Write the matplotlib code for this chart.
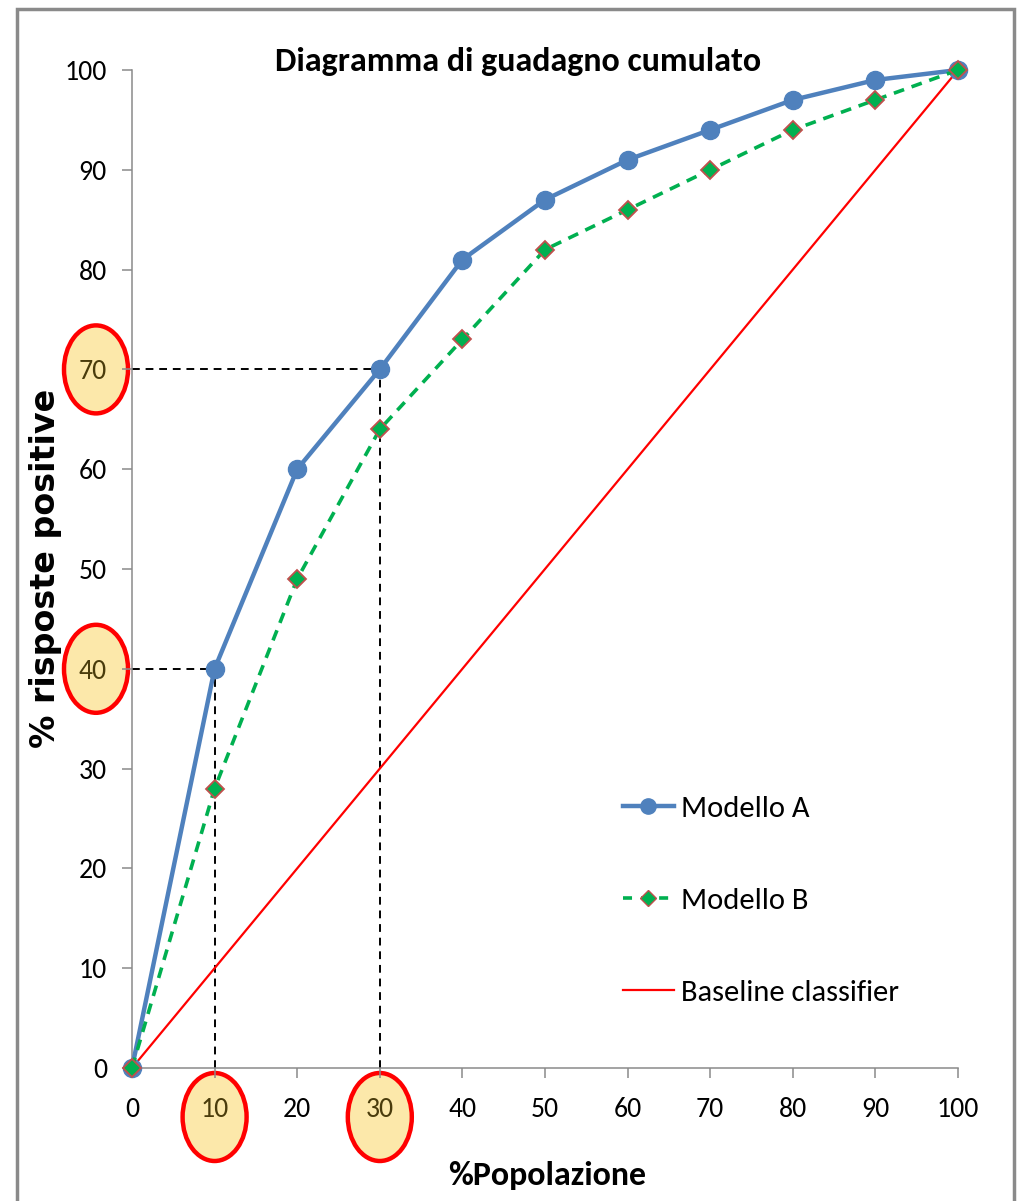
import matplotlib
matplotlib.use("Agg")
import matplotlib.pyplot as plt
from matplotlib.patches import Ellipse, Rectangle
from matplotlib.transforms import ScaledTranslation
from matplotlib.lines import Line2D

# Cumulative gain data (% of population vs % of positive responses)
popolazione = [0, 10, 20, 30, 40, 50, 60, 70, 80, 90, 100]
modello_a = [0, 40, 60, 70, 81, 87, 91, 94, 97, 99, 100]
modello_b = [0, 28, 49, 64, 73, 82, 86, 90, 94, 97, 100]
baseline = [0, 10, 20, 30, 40, 50, 60, 70, 80, 90, 100]

series_labels = ["Modello A", "Modello B", "Baseline classifier"]
y_ticks = [0, 10, 20, 30, 40, 50, 60, 70, 80, 90, 100]
x_ticks = [0, 10, 20, 30, 40, 50, 60, 70, 80, 90, 100]

# Highlighted reading points: 10% population -> 40%, 30% population -> 70%
evid_x = [10, 30]
evid_y = [40, 70]

FONT = ["Carlito", "DejaVu Sans"]

W, H, DPI = 1019, 1201, 100
fig = plt.figure(figsize=(W / DPI, H / DPI), dpi=DPI)
fig.patch.set_facecolor("white")

# outer chart frame
fig.patches.append(Rectangle((17 / W, -0.05), (1014 - 17) / W, 1.05 - 9 / H,
                             transform=fig.transFigure, fill=False,
                             edgecolor="#8a8a8a", linewidth=2.5, zorder=0))

ax = fig.add_axes([132 / W, 1 - 1068 / H, (958 - 132) / W, (1068 - 70) / H])
ax.set_facecolor("none")
ax.set_xlim(0, 100)
ax.set_ylim(0, 100)

blue = "#4F81BD"
green = "#00B050"
red = "#FF0000"
brown = "#C0504D"

ax.plot(popolazione, baseline, color=red, linewidth=1.6, zorder=3, clip_on=False)
ax.plot(popolazione, modello_a, color=blue, linewidth=3.2, marker="o",
        markersize=13, markerfacecolor=blue, markeredgecolor=blue,
        zorder=4, clip_on=False)
ax.plot(popolazione, modello_b, color=green, linewidth=2.6, linestyle=(0, (3, 2.2)),
        marker="D", markersize=9.5, markerfacecolor=green, markeredgecolor=brown,
        markeredgewidth=1.3, zorder=5, clip_on=False)

# dashed reading guides
for xv, yv in zip(evid_x, evid_y):
    ax.plot([0, xv], [yv, yv], color="black", linewidth=1.4,
            linestyle=(0, (4, 3)), zorder=2, clip_on=False)
    ax.plot([xv, xv], [0, yv], color="black", linewidth=1.4,
            linestyle=(0, (4, 3)), zorder=2, clip_on=False)

for side in ["top", "right"]:
    ax.spines[side].set_visible(False)
for side in ["left", "bottom"]:
    ax.spines[side].set_color("#8a8a8a")
    ax.spines[side].set_linewidth(1.1)

ax.set_xticks(x_ticks)
ax.set_yticks(y_ticks)
ax.set_xticklabels([str(v) for v in x_ticks], fontfamily=FONT, fontsize=20)
ax.set_yticklabels([str(v) for v in y_ticks], fontfamily=FONT, fontsize=20)
ax.tick_params(axis="both", direction="out", length=7, width=1.1, color="#8a8a8a")
ax.tick_params(axis="x", pad=14)
ax.tick_params(axis="y", pad=11)

olive = "#4a3c0c"
for lab, v in zip(ax.get_xticklabels(), x_ticks):
    if v in evid_x:
        lab.set_color(olive)
for lab, v in zip(ax.get_yticklabels(), y_ticks):
    if v in evid_y:
        lab.set_color(olive)

# ellipses around the highlighted tick labels
ew, eh = 64 / DPI, 88 / DPI
for xv in evid_x:
    tr = fig.dpi_scale_trans + ScaledTranslation(xv, 0, ax.get_xaxis_transform())
    ax.add_patch(Ellipse((0, -49 / DPI), ew, eh, transform=tr, facecolor="#FCE8AA",
                         edgecolor="#FF0000", linewidth=3.2, zorder=1, clip_on=False))
for yv in evid_y:
    tr = fig.dpi_scale_trans + ScaledTranslation(0, yv, ax.get_yaxis_transform())
    ax.add_patch(Ellipse((-36 / DPI, 0), ew, eh, transform=tr, facecolor="#FCE8AA",
                         edgecolor="#FF0000", linewidth=3.2, zorder=1, clip_on=False))

fig.text(518 / W, 1 - 62 / H, "Diagramma di guadagno cumulato", ha="center",
         va="center", fontsize=24.5, fontweight="bold", fontfamily=FONT)
fig.text(547 / W, 1 - 1175 / H, "%Popolazione", ha="center", va="center",
         fontsize=24.5, fontweight="bold", fontfamily=FONT)
fig.text(46 / W, 1 - 568 / H, "% risposte positive", ha="center", va="center",
         rotation=90, fontsize=24, fontweight="bold", fontfamily="DejaVu Sans")

handles = [
    Line2D([], [], color=blue, linewidth=3.2, marker="o", markersize=11,
           markerfacecolor=blue, markeredgecolor=blue),
    Line2D([], [], color=green, linewidth=2.6, linestyle=(0, (2.5, 2.5)), marker="D",
           markersize=8, markerfacecolor=green, markeredgecolor=brown),
    Line2D([], [], color=red, linewidth=1.6),
]
leg = fig.legend(handles, series_labels, loc="upper left",
                 bbox_to_anchor=(595 / W, 1 - 768 / H), frameon=False,
                 prop={"family": FONT, "size": 22}, handlelength=1.7,
                 handletextpad=0.2, labelspacing=2.15)

fig.savefig("out.png", dpi=DPI)
